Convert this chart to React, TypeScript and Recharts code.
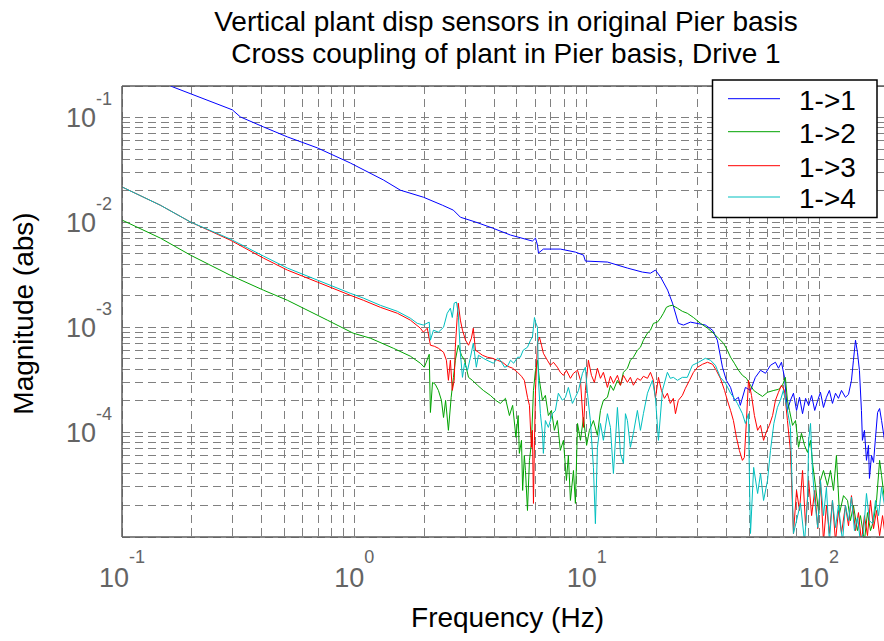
import React from 'react';
import { LineChart, Line, XAxis, YAxis, CartesianGrid, ReferenceLine } from 'recharts';

const FONT = '"Liberation Sans", Arial, Helvetica, sans-serif';
const AXIS_GREY = '#5c5c5c';
const GRID_GREY = '#808080';
const LABEL_GREY = '#646464';

const TITLE_LINES = [
    'Vertical plant disp sensors in original Pier basis',
    'Cross coupling of plant in Pier basis, Drive 1',
];
const X_TITLE = 'Frequency (Hz)';
const Y_TITLE = 'Magnitude (abs)';

const X_DOMAIN: [number, number] = [0.1, 200];
const Y_DOMAIN: [number, number] = [1e-5, 0.2];
const X_DECADES = [0.1, 1, 10, 100];
const X_EXPONENTS = ['-1', '0', '1', '2'];
const Y_DECADES = [1e-5, 1e-4, 1e-3, 1e-2, 1e-1];
const Y_EXPONENTS = ['', '-4', '-3', '-2', '-1'];
const MINOR_STEPS = [1, 2, 3, 4, 5, 6, 7, 8, 9];

const SERIES_NAMES = ['1->1', '1->2', '1->3', '1->4'];
const SERIES_COLORS = ['#0000ff', '#00a300', '#ff0000', '#00bfbf'];

// 1->1
const FREQ_11 = [
    0.1, 0.165, 0.2985, 0.323, 0.406, 0.515, 0.693, 0.96, 1.334, 1.578,
    1.982, 2.393, 2.667, 2.862, 3.32, 3.93, 4.7, 5.84, 6.02, 6.14,
    6.2, 6.51, 7.7, 8.94, 9.69, 9.87, 12.28, 14.97, 17.37, 18.8,
    19.76, 20.8, 22.3, 23.4, 24.8, 26.1, 27.95, 32.4, 34.8, 36.5,
    38.4, 39.9, 41.6, 43.2, 45.0, 45.8, 48.2, 50.7, 53.2, 56.0,
    58.8, 61.8, 64.9, 66.9, 68.9, 71.0, 73.1, 75.3, 77.6, 80.0,
    82.4, 84.9, 87.5, 90.2, 92.9, 95.8, 98.7, 101.4, 104.5, 107.6,
    110.8, 114.2, 117.7, 121.2, 124.9, 129.9, 133.9, 137.9, 140.6, 143.5,
    146.3, 149.2, 152.2, 153.7, 156.8, 160.0, 163.2, 164.8, 168.2, 171.6,
    175, 178.6, 182.2, 185.8, 191.4, 200,
];
const MAG_11 = [
    0.356, 0.1965, 0.1185, 0.1015, 0.0815, 0.0654, 0.0514, 0.0369, 0.0254, 0.0203,
    0.0174, 0.0146, 0.0131, 0.0112, 0.0101, 0.00884, 0.00758, 0.00664, 0.00709, 0.00608,
    0.0051, 0.00557, 0.00557, 0.00521, 0.00488, 0.00428, 0.00419, 0.00367, 0.00336, 0.00328,
    0.00351, 0.00301, 0.00226, 0.0017, 0.00109, 0.00105, 0.00112, 0.00105, 0.000938, 0.000753,
    0.000416, 0.000312, 0.000267, 0.000201, 0.000215, 0.00018, 0.000267, 0.00025, 0.000333, 0.000389,
    0.000364, 0.000434, 0.000464, 0.000407, 0.000464, 0.000333, 0.000161, 0.000201, 0.000235, 0.000161,
    0.000215, 0.00015, 0.00021, 0.00018, 0.000224, 0.000161, 0.000201, 0.00024, 0.000172, 0.000215,
    0.00025, 0.000188, 0.000235, 0.00021, 0.00025, 0.000215, 0.000229, 0.000312, 0.000485, 0.000753,
    0.000578, 0.000389, 0.000161, 8.35e-5, 0.000104, 5.38e-5, 7.48e-5, 3.62e-5, 6.0e-5, 5.14e-5,
    8.92e-5, 0.000154, 0.000168, 0.000129, 8.35e-5, 4.3e-5,
];

// 1->2
const FREQ_12 = [
    0.1, 0.1462, 0.197, 0.292, 0.406, 0.515, 0.765, 0.988, 1.172, 1.472,
    1.742, 1.924, 2.0, 2.04, 2.1, 2.125, 2.17, 2.23, 2.3, 2.37,
    2.42, 2.47, 2.54, 2.61, 2.67, 2.72, 2.8, 2.89, 2.98, 3.1,
    3.22, 3.39, 3.59, 3.85, 4.06, 4.25, 4.47, 4.65, 4.8, 4.96,
    5.07, 5.13, 5.24, 5.3, 5.39, 5.45, 5.56, 5.67, 5.78, 5.9,
    6.02, 6.14, 6.26, 6.45, 6.64, 6.84, 7.05, 7.26, 7.48, 7.7,
    7.94, 8.18, 8.34, 8.51, 8.77, 8.94, 9.13, 9.4, 9.69, 9.99,
    10.27, 10.69, 11.12, 11.46, 11.8, 12.28, 12.65, 13.03, 13.56, 13.97,
    14.39, 14.97, 15.42, 15.88, 16.53, 17.03, 17.54, 18.26, 18.81, 19.37,
    20.16, 20.77, 21.39, 22.03, 22.7, 23.39, 24.58, 25.8, 27.1, 28.8,
    30.9, 33.1, 35.1, 36.9, 38.8, 40.3, 41.6, 43.2, 45.0, 46.8,
    48.7, 50.7, 52.3, 54.4, 57.1, 60.0, 63.9, 66.9, 69.6, 71.6,
    73.1, 74.6, 76.9, 79.2, 81.6, 84.0, 86.6, 89.2, 91.9, 93.7,
    96.7, 99.7, 101.4, 104.5, 108.7, 112, 115.4, 118.8, 122.4, 127.4,
    132.6, 136.5, 140.6, 146.3, 150.7, 156.8, 161.6, 166.5, 171.6, 176.8,
    182.2, 185.8, 191.4, 200,
];
const MAG_12 = [
    0.01053, 0.00709, 0.00488, 0.00314, 0.00226, 0.00181, 0.00117, 0.000879, 0.000787, 0.000631,
    0.00053, 0.000454, 0.000416, 0.000464, 0.000553, 0.000154, 0.000298, 0.000286, 0.00025, 0.000201,
    0.000138, 0.000201, 0.000104, 0.000215, 0.000333, 0.000485, 0.000674, 0.000541, 0.000485, 0.000333,
    0.000312, 0.00028, 0.00025, 0.000224, 0.000201, 0.000188, 0.00021, 0.000144, 0.00018, 8.92e-5,
    0.000144, 6.27e-5, 8.35e-5, 2.78e-5, 6.0e-5, 4.31e-5, 1.79e-5, 5.38e-5, 7.82e-5, 0.00025,
    0.000389, 0.000485, 0.000312, 0.000201, 0.000224, 0.000144, 0.000161, 0.000104, 0.000129, 6.7e-5,
    8.35e-5, 3.46e-5, 6.0e-5, 2.23e-5, 4.31e-5, 2.09e-5, 0.000121, 8.35e-5, 0.000138, 7.48e-5,
    0.000104, 0.000129, 9.32e-5, 0.000161, 0.000201, 0.000215, 0.00028, 0.00025, 0.000312, 0.00028,
    0.000372, 0.000407, 0.000485, 0.000518, 0.000605, 0.000645, 0.000753, 0.000879, 0.000938, 0.00109,
    0.00112, 0.00122, 0.00136, 0.00155, 0.0016, 0.00162, 0.00152, 0.00142, 0.00136, 0.00124,
    0.00109, 0.00098, 0.000879, 0.000787, 0.000705, 0.000605, 0.000518, 0.000454, 0.000389, 0.000348,
    0.000326, 0.00028, 0.00025, 0.000235, 0.000219, 0.00024, 0.00025, 0.000256, 0.00028, 0.000333,
    0.000201, 0.000161, 0.000116, 0.000129, 7.16e-5, 9.74e-5, 7.48e-5, 6.41e-5, 8.35e-5, 5.14e-5,
    2.97e-5, 1.67e-5, 3.46e-5, 4.31e-5, 3.1e-5, 4.31e-5, 2.78e-5, 6.0e-5, 1.67e-5, 2.48e-5,
    2.23e-5, 1.43e-5, 2.0e-5, 1.15e-5, 1.6e-5, 0.92e-5, 1.71e-5, 1.15e-5, 1.43e-5, 2.23e-5,
    5.38e-5, 3.86e-5, 2.23e-5, 3.0e-5,
];

// 1->3
const FREQ_13 = [
    0.1, 0.1462, 0.197, 0.292, 0.406, 0.515, 0.693, 0.96, 1.093, 1.294,
    1.532, 1.742, 1.924, 1.982, 2.06, 2.125, 2.21, 2.3, 2.42, 2.49,
    2.54, 2.59, 2.64, 2.69, 2.72, 2.77, 2.8, 2.86, 2.92, 3.01,
    3.1, 3.19, 3.25, 3.32, 3.42, 3.56, 3.74, 3.93, 4.13, 4.34,
    4.56, 4.8, 5.04, 5.24, 5.39, 5.56, 5.67, 5.78, 5.84, 5.9,
    5.96, 6.02, 6.14, 6.26, 6.39, 6.51, 6.77, 6.98, 7.19, 7.48,
    7.7, 7.94, 8.18, 8.51, 8.77, 9.13, 9.4, 9.69, 9.87, 10.17,
    10.48, 10.79, 11.12, 11.46, 11.8, 12.28, 12.65, 13.03, 13.56, 13.97,
    14.39, 14.97, 15.42, 15.88, 16.53, 17.03, 17.54, 18.26, 18.81, 19.37,
    19.76, 20.36, 20.97, 21.6, 22.25, 22.9, 23.6, 24.1, 24.8, 25.8,
    26.6, 27.7, 28.8, 30.0, 31.5, 33.1, 34.8, 36.1, 37.6, 39.2,
    40.3, 41.6, 42.8, 44.1, 45.4, 46.8, 47.7, 48.7, 49.7, 51.2,
    52.7, 54.4, 56, 57.7, 59.2, 61.1, 63.1, 64.9, 66.9, 68.9,
    71.0, 73.1, 75.3, 77.6, 80.0, 82.4, 84.9, 87.5, 90.2, 92.9,
    95.8, 98.7, 101.4, 104.5, 107.6, 110.8, 114.2, 117.7, 121.2, 124.9,
    129.9, 133.9, 137.9, 143.5, 147.8, 152.2, 156.8, 161.6, 166.5, 171.6,
    176.8, 182.2, 187.6, 191.4,
];
const MAG_13 = [
    0.0218, 0.0146, 0.0101, 0.00679, 0.00457, 0.00351, 0.0027, 0.00202, 0.00181, 0.00155,
    0.00136, 0.00117, 0.00098, 0.000898, 0.00098, 0.000674, 0.000659, 0.000631, 0.000578, 0.000485,
    0.000312, 0.000485, 0.00025, 0.000312, 0.000645, 0.00124, 0.0017, 0.00117, 0.000938, 0.000753,
    0.000674, 0.000787, 0.00098, 0.000605, 0.000578, 0.000541, 0.000518, 0.000506, 0.000485, 0.000464,
    0.000425, 0.000407, 0.000372, 0.000341, 0.000312, 0.000215, 0.00018, 7.16e-5, 0.000104, 2.09e-5,
    8.35e-5, 0.00025, 0.000705, 0.000804, 0.000674, 0.000565, 0.000485, 0.000434, 0.000464, 0.000416,
    0.000372, 0.000348, 0.000389, 0.000326, 0.000364, 0.000389, 0.000312, 0.000111, 0.00025, 0.000485,
    0.000348, 0.000298, 0.000407, 0.000326, 0.000372, 0.000267, 0.000341, 0.000292, 0.000348, 0.00028,
    0.000348, 0.000298, 0.000333, 0.00028, 0.000326, 0.000312, 0.000341, 0.000326, 0.000372, 0.000312,
    0.00021, 0.000333, 0.00025, 0.00021, 0.000235, 0.000188, 0.00021, 0.00015, 0.000201, 0.000224,
    0.000262, 0.000312, 0.000372, 0.000416, 0.000444, 0.000464, 0.000444, 0.000389, 0.000326, 0.00025,
    0.000201, 0.000161, 0.000129, 8.92e-5, 6.7e-5, 5.38e-5, 5.74e-5, 0.000129, 0.000312, 0.000224,
    0.000144, 0.000104, 0.000116, 8.35e-5, 9.96e-5, 0.000116, 0.000144, 0.000201, 0.00024, 0.00028,
    0.00025, 0.000129, 6.7e-5, 1.08e-5, 2.78e-5, 1.79e-5, 4.31e-5, 1.28e-5, 3.46e-5, 1.6e-5,
    2.78e-5, 1.2e-5, 3.46e-5, 9e-6, 2.0e-5, 1.08e-5, 2.23e-5, 9e-6, 1.79e-5, 1.08e-5,
    2.0e-5, 1.28e-5, 2.48e-5, 1.15e-5, 1.71e-5, 9e-6, 1.6e-5, 1.03e-5, 2.23e-5, 1.2e-5,
    1.79e-5, 1.03e-5, 1.6e-5, 1.15e-5,
];

// 1->4
const FREQ_14 = [
    0.1, 0.1462, 0.197, 0.292, 0.406, 0.515, 0.693, 0.96, 1.093, 1.294,
    1.532, 1.742, 1.866, 1.982, 2.1, 2.125, 2.19, 2.3, 2.42, 2.51,
    2.59, 2.64, 2.69, 2.75, 2.8, 2.86, 2.92, 2.98, 3.07, 3.16,
    3.25, 3.35, 3.42, 3.59, 3.72, 3.97, 4.13, 4.25, 4.43, 4.56,
    4.7, 4.85, 5.04, 5.18, 5.33, 5.56, 5.73, 5.84, 5.96, 6.02,
    6.14, 6.2, 6.32, 6.45, 6.51, 6.64, 6.84, 7.12, 7.33, 7.55,
    7.86, 8.1, 8.34, 8.68, 8.94, 9.22, 9.59, 9.87, 10.07, 10.37,
    10.69, 10.9, 11.12, 11.46, 11.8, 12.28, 12.65, 13.03, 13.56, 13.97,
    14.39, 14.68, 14.97, 15.42, 15.88, 16.53, 17.03, 17.54, 18.26, 19.18,
    19.76, 20.36, 21.18, 22.25, 22.9, 23.6, 24.58, 25.8, 27.1, 28.5,
    30.3, 32.4, 34.1, 35.8, 37.6, 39.6, 41.6, 43.2, 44.5, 46.8,
    48.2, 49.7, 50.2, 50.7, 52.3, 54.4, 56.0, 57.7, 60.0, 61.8,
    63.9, 66.2, 68.2, 70.2, 73.1, 75.3, 77.6, 80.0, 83.2, 86.6,
    89.2, 90.2, 91.9, 93.7, 95.8, 98.7, 101.4, 104.5, 107.6, 110.8,
    114.2, 117.7, 121.2, 126.2, 129.9, 133.9, 137.9, 142, 146.3, 150.7,
    155.2, 160, 164.8, 169.9, 175, 180.4, 185.8, 191.4,
];
const MAG_14 = [
    0.0218, 0.0146, 0.0101, 0.00695, 0.00478, 0.00367, 0.00282, 0.00211, 0.0019, 0.00162,
    0.00142, 0.00122, 0.00109, 0.00105, 0.00112, 0.000753, 0.000938, 0.000898, 0.001, 0.00136,
    0.00152, 0.00124, 0.0017, 0.00174, 0.00136, 0.000565, 0.000333, 0.000454, 0.000389, 0.000518,
    0.000705, 0.000416, 0.000541, 0.000506, 0.000485, 0.000454, 0.000506, 0.000485, 0.000416, 0.000425,
    0.000485, 0.000454, 0.000518, 0.000518, 0.000605, 0.000645, 0.000753, 0.000804, 0.00124, 0.00112,
    0.001, 0.000312, 0.00015, 9.74e-5, 6.27e-5, 0.000129, 0.000111, 0.00015, 0.000161, 0.000235,
    0.000201, 0.000215, 0.000267, 0.000188, 0.000215, 0.00025, 0.000364, 0.000416, 0.000235, 0.000129,
    4.61e-5, 1.34e-5, 7.16e-5, 0.000121, 8.35e-5, 0.00015, 0.000111, 4.03e-5, 0.000172, 6.27e-5,
    5.03e-5, 0.00015, 0.000129, 7.16e-5, 9.74e-5, 0.000161, 0.000104, 0.00015, 0.000235, 0.000312,
    0.000215, 8.35e-5, 0.00025, 0.000372, 0.000326, 0.000333, 0.000312, 0.000333, 0.000333, 0.000434,
    0.000464, 0.000506, 0.000485, 0.000434, 0.000333, 0.000292, 0.000235, 0.00021, 0.000188, 0.00015,
    0.000121, 0.00015, 3.24e-5, 1.08e-5, 4.61e-5, 2.6e-5, 4.03e-5, 2.23e-5, 3.46e-5, 6.7e-5,
    0.000121, 0.000172, 0.000201, 0.00025, 0.000161, 0.000111, 1.08e-5, 1.43e-5, 2.1e-5, 9e-6,
    2.23e-5, 8.35e-5, 0.000121, 4.31e-5, 2.23e-5, 1.23e-5, 3.46e-5, 1.6e-5, 2.97e-5, 9e-6,
    2.23e-5, 1.23e-5, 2.0e-5, 9e-6, 2.0e-5, 1.43e-5, 2.4e-5, 1.15e-5, 1.53e-5, 9e-6,
    1.08e-5, 2.6e-5, 1.43e-5, 1.34e-5, 2.23e-5, 1.6e-5, 2.97e-5, 2.0e-5,
];

const SERIES_FREQS = [FREQ_11, FREQ_12, FREQ_13, FREQ_14];
const SERIES_MAGS = [MAG_11, MAG_12, MAG_13, MAG_14];

const toPoints = (freqs: number[], mags: number[]) =>
    freqs.map((f, i) => ({ f, m: mags[i] }));

const gridTicks = (decades: number[], max: number) =>
    decades.flatMap(d => MINOR_STEPS.map(s => d * s)).filter(v => v <= max * 1.0001);

const X_TICKS = gridTicks(X_DECADES, X_DOMAIN[1]);
const Y_TICKS = gridTicks(Y_DECADES, Y_DOMAIN[1]);

const decadeIndex = (decades: number[], v: number) =>
    decades.findIndex(d => Math.abs(v / d - 1) < 1e-9);

function XTick(props: any) {
    const { x, payload } = props;
    const i = decadeIndex(X_DECADES, payload.value);
    if (i < 0) return null;
    return (
        <text x={x} y={587} textAnchor="middle" fontFamily={FONT} fontSize={27} fill={LABEL_GREY}>
            10<tspan dy={-24} fontSize={18}>{X_EXPONENTS[i]}</tspan>
        </text>
    );
}

function YTick(props: any) {
    const { y, payload } = props;
    const i = decadeIndex(Y_DECADES, payload.value);
    if (i < 0 || !Y_EXPONENTS[i]) return null;
    return (
        <text x={112} y={y + 9.5} textAnchor="end" fontFamily={FONT} fontSize={27} fill={LABEL_GREY}>
            10<tspan dy={-22} fontSize={18}>{Y_EXPONENTS[i]}</tspan>
        </text>
    );
}

function Overlay() {
    const legendRows = [98.7, 131.7, 165.7, 197];
    return (
        <svg
            width={884}
            height={641}
            style={{ position: 'absolute', left: 0, top: 0, pointerEvents: 'none' }}
        >
            {TITLE_LINES.map((t, i) => (
                <text key={t} x={506} y={31 + i * 31.5} textAnchor="middle" fontFamily={FONT} fontSize={28} fill="#000">
                    {t}
                </text>
            ))}
            <text x={507.5} y={627} textAnchor="middle" fontFamily={FONT} fontSize={28} fill="#000">
                {X_TITLE}
            </text>
            <text
                x={33}
                y={313.5}
                textAnchor="middle"
                fontFamily={FONT}
                fontSize={28}
                fill="#000"
                transform="rotate(-90, 33, 313.5)"
            >
                {Y_TITLE}
            </text>
            <rect x={712.5} y={80} width={164.5} height={137.5} fill="#fff" stroke="#000" strokeWidth={1.5} />
            {SERIES_NAMES.map((name, i) => (
                <g key={name}>
                    <line x1={728} x2={780} y1={legendRows[i]} y2={legendRows[i]} stroke={SERIES_COLORS[i]} strokeWidth={1} />
                    <text x={799} y={legendRows[i] + 11} fontFamily={FONT} fontSize={28} fill="#000">
                        {name}
                    </text>
                </g>
            ))}
        </svg>
    );
}

export default function App() {
    return (
        <div
            style={{
                position: 'absolute',
                left: 0,
                top: 0,
                width: 884,
                height: 641,
                overflow: 'hidden',
                background: '#fff',
            }}
        >
            <LineChart width={900} height={641} margin={{ top: 86, right: 11, bottom: 0, left: 0 }}>
                <CartesianGrid
                    stroke={GRID_GREY}
                    strokeDasharray="8 5"
                    strokeWidth={1}
                    shapeRendering="crispEdges"
                />
                <XAxis
                    type="number"
                    dataKey="f"
                    scale="log"
                    domain={X_DOMAIN}
                    allowDataOverflow
                    ticks={X_TICKS}
                    interval={0}
                    height={104}
                    tick={<XTick />}
                    tickLine={false}
                    axisLine={{ stroke: AXIS_GREY, strokeWidth: 1.5 }}
                />
                <YAxis
                    type="number"
                    dataKey="m"
                    scale="log"
                    domain={Y_DOMAIN}
                    allowDataOverflow
                    ticks={Y_TICKS}
                    interval={0}
                    width={122}
                    tick={<YTick />}
                    tickLine={false}
                    axisLine={{ stroke: AXIS_GREY, strokeWidth: 1.5 }}
                />
                <ReferenceLine y={Y_DOMAIN[1]} stroke={AXIS_GREY} strokeWidth={1.5} />
                {SERIES_NAMES.map((name, i) => (
                    <Line
                        key={name}
                        name={name}
                        data={toPoints(SERIES_FREQS[i], SERIES_MAGS[i])}
                        dataKey="m"
                        type="linear"
                        stroke={SERIES_COLORS[i]}
                        strokeWidth={1}
                        dot={false}
                        activeDot={false}
                        isAnimationActive={false}
                    />
                ))}
            </LineChart>
            <Overlay />
        </div>
    );
}
